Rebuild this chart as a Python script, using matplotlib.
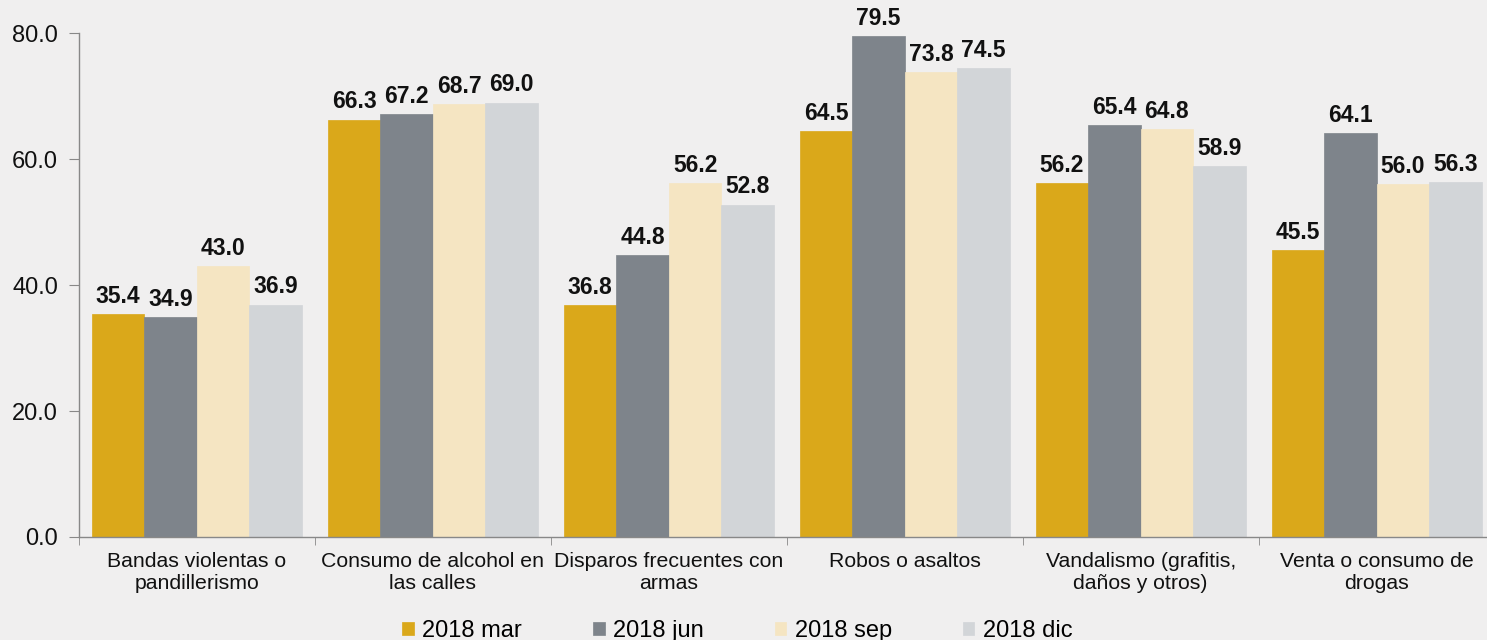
import matplotlib.pyplot as plt
import numpy as np

plt.rcParams['font.family'] = ['Liberation Sans', 'DejaVu Sans']

# data
categories = ["Bandas violentas o\npandillerismo", "Consumo de alcohol en\nlas calles",
              "Disparos frecuentes con\narmas", "Robos o asaltos",
              "Vandalismo (grafitis,\ndaños y otros)", "Venta o consumo de\ndrogas"]
series = ["2018 mar", "2018 jun", "2018 sep", "2018 dic"]
mar = [35.4, 66.3, 36.8, 64.5, 56.2, 45.5]
jun = [34.9, 67.2, 44.8, 79.5, 65.4, 64.1]
sep = [43.0, 68.7, 56.2, 73.8, 64.8, 56.0]
dic = [36.9, 69.0, 52.8, 74.5, 58.9, 56.3]
colors = ["#DAA81A", "#7E848B", "#F5E5C2", "#D2D5D8"]

bg = "#F0EFEF"
fig = plt.figure(figsize=(14.87, 6.4), dpi=100, facecolor=bg)
ax = fig.add_axes([0.0531, 0.161, 0.952, 0.787], facecolor=bg)

x = np.arange(len(categories))
w = 0.2225
for i, (vals, lab, c) in enumerate(zip([mar, jun, sep, dic], series, colors)):
    pos = x + (i - 1.5) * w
    ax.bar(pos, vals, width=w, color=c, label=lab, edgecolor=c, linewidth=0.5)
    for px, v in zip(pos, vals):
        ax.text(px, v + 1.0, f"{v:.1f}", ha="center", va="bottom",
                fontsize=16.5, fontweight="bold", color="#111111")

ax.set_xlim(-0.5, len(categories) - 0.5)
ax.set_ylim(0, 80)
ax.set_yticks(np.arange(0, 81, 20))
ax.set_yticklabels([f"{t:.1f}" for t in np.arange(0, 81, 20)], fontsize=17, color="#111111")
ax.set_xticks(x)
ax.set_xticklabels(categories, fontsize=15.3, color="#111111", linespacing=1.2)
ax.set_xticks(np.arange(-0.5, len(categories)), minor=True)
ax.tick_params(axis="x", which="major", length=0, pad=11)
ax.tick_params(axis="x", which="minor", length=6, color="#888888")
ax.tick_params(axis="y", length=7, color="#888888", pad=8)

for s in ["top", "right"]:
    ax.spines[s].set_visible(False)
for s in ["left", "bottom"]:
    ax.spines[s].set_color("#888888")
    ax.spines[s].set_linewidth(1)

ax.legend(loc="lower center", bbox_to_anchor=(0.465, -0.25), ncol=4, frameon=False,
          fontsize=17, handlelength=0.5, handleheight=0.5, handletextpad=0.35,
          columnspacing=3.0)

fig.savefig("out.png", dpi=100, facecolor=bg)
